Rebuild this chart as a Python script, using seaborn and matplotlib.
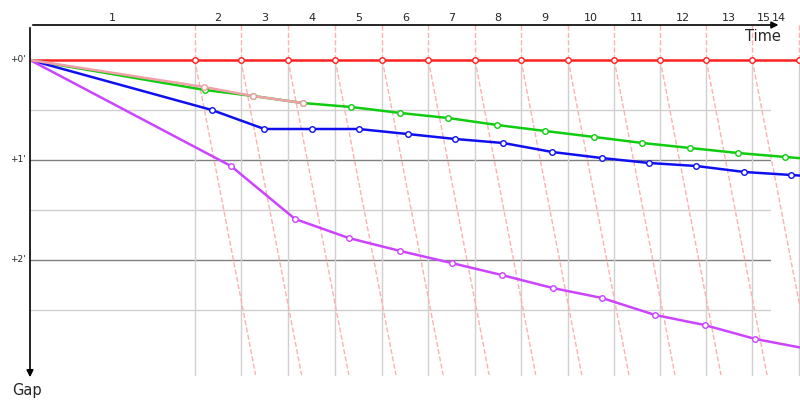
import matplotlib
matplotlib.use("Agg")
import matplotlib.pyplot as plt
import seaborn as sns
import pandas as pd
import numpy as np

# leader cumulative time (s) at the end of each lap
leader_times = [290, 371, 454, 537, 620, 701, 783, 864, 947, 1028, 1109, 1190, 1271, 1353]
lap_labels = ["1", "2", "3", "4", "5", "6", "7", "8", "9", "10", "11", "12", "13", "14"]
# gaps to leader in seconds per lap
gap_red = [0]*14
gap_green = [18, 21.6, 25.8, 28.2, 31.8, 34.8, 39, 42.6, 46.2, 49.8, 52.8, 55.8, 58.2, 60.5]
gap_pink = [16.2, 21.6, 25.8]
gap_blue = [30, 41.4, 41.4, 41.4, 44.4, 47.4, 49.8, 55.2, 58.8, 61.8, 63.6, 67.2, 69, 71]
gap_purple = [63.6, 95.4, 106.8, 114.6, 121.8, 129, 136.8, 142.8, 153, 159, 167.4, 173]

series = {"red": (gap_red, "#ff2020"), "green": (gap_green, "#10cc10"),
          "blue": (gap_blue, "#1010ee"), "purple": (gap_purple, "#cc44ff"),
          "pink": (gap_pink, "#f0a0a8")}

sns.set_style("white")
plt.rcParams["font.family"] = ["DejaVu Sans"]
fig = plt.figure(figsize=(8, 4), dpi=100)
ax = fig.add_axes([30/800, 0, 770/800, 375/400])
XMAX = 1355
ax.set_xlim(0, XMAX)
ax.set_ylim(204, -21)

# horizontal grid
for g in [30, 90, 150]:
    ax.plot([0, 1302], [g, g], color="#d0d0d0", lw=1, zorder=0)
for g in [60, 120]:
    ax.plot([0, 1302], [g, g], color="#808080", lw=1, zorder=0)
# lap lines
for t in leader_times:
    ax.plot([t, t], [-21, 0], color="#ffb0b0", lw=1, ls="--", zorder=1)
    ax.plot([t, t], [0, 189], color="#d0d0d0", lw=1, zorder=0)
    ax.plot([t, t + 107], [0, 189], color="#ffb0b0", lw=1, ls="--", zorder=1)

for name, (gaps, col) in series.items():
    n = len(gaps)
    xs = [0] + [leader_times[i] + gaps[i] for i in range(n)]
    ys = [0] + list(gaps)
    df = pd.DataFrame({"t": xs, "gap": ys})
    sns.lineplot(data=df, x="t", y="gap", ax=ax, color=col, lw=1.8, sort=False,
                 estimator=None, zorder=3)
    ax.scatter(xs[1:], ys[1:], s=16, facecolor="white", edgecolor=col, lw=1, zorder=4)

for sp in ["right", "bottom", "left", "top"]:
    ax.spines[sp].set_visible(False)
ax.annotate("", xy=(1322, -21), xytext=(0, -21), annotation_clip=False,
            arrowprops=dict(arrowstyle="-|>", color="black", lw=1.2))
ax.annotate("", xy=(0, 192), xytext=(0, -21), annotation_clip=False,
            arrowprops=dict(arrowstyle="-|>", color="black", lw=1.2))
ax.set_xticks([]); ax.set_yticks([])
ax.set_xlabel(""); ax.set_ylabel("")

prev = 0
for i, t in enumerate(leader_times):
    ax.text((prev + t) / 2 + (5 if i == 13 else 0), -25, lap_labels[i], ha="center", va="center",
            fontsize=8, clip_on=False)
    prev = t
ax.text(1292, -25, "15", ha="center", va="center", fontsize=8, clip_on=False)
ax.text(1290, -14, "Time", ha="center", va="center", fontsize=10.5, clip_on=False)
for g, lab in [(0, "+0'"), (60, "+1'"), (120, "+2'")]:
    ax.text(-8, g, lab, ha="right", va="center", fontsize=6.5, clip_on=False)
ax.text(-6, 194, "Gap", ha="center", va="top", fontsize=10.5, clip_on=False)

fig.savefig("out.png", dpi=100)
